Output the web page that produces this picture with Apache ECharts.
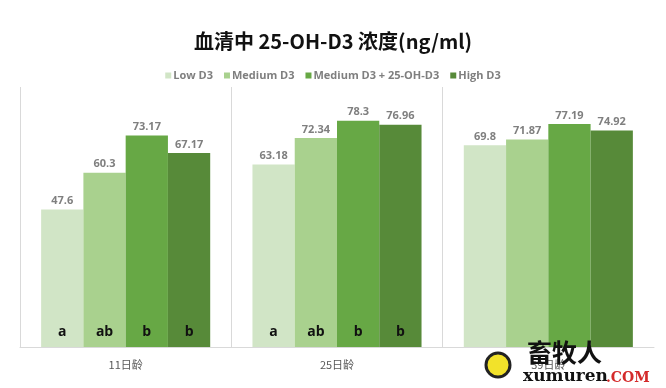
<!DOCTYPE html>
<html>
<head>
<meta charset="utf-8">
<script src="https://cdn.jsdelivr.net/npm/echarts@6/dist/echarts.min.js"></script>
<style>html,body{margin:0;padding:0;background:#fff;}#c{width:666px;height:388px;}</style>
</head>
<body>
<div id="c"></div>
<script>
var categories = ['11日龄', '25日龄', '39日龄'];
var seriesNames = ['Low D3', 'Medium D3', 'Medium D3 + 25-OH-D3', 'High D3'];
var lowD3 = [47.6, 63.18, 69.8];
var mediumD3 = [60.3, 72.34, 71.87];
var medium25OH = [73.17, 78.3, 77.19];
var highD3 = [67.17, 76.96, 74.92];
var lettersLow = ['a', 'a', ''];
var lettersMedium = ['ab', 'ab', ''];
var lettersMedium25 = ['b', 'b', ''];
var lettersHigh = ['b', 'b', ''];

var values = [lowD3, mediumD3, medium25OH, highD3];
var letters = [lettersLow, lettersMedium, lettersMedium25, lettersHigh];
var colors = ['#d1e5c6', '#a9d18e', '#67a845', '#578a39'];

var chart = echarts.init(document.getElementById('c'), null, {renderer: 'canvas'});
var series = [];
values.forEach(function (v, i) {
  series.push({
    name: seriesNames[i], type: 'bar', xAxisIndex: 0, data: v,
    barGap: '0%', barCategoryGap: '20%',
    itemStyle: {color: colors[i]},
    label: {show: true, position: 'top', distance: 3, color: '#7f7f7f', fontWeight: 'bold',
      fontSize: 11, fontFamily: 'Open Sans'}
  });
});
values.forEach(function (v, i) {
  series.push({
    type: 'bar', xAxisIndex: 1, data: v, silent: true,
    barGap: '0%', barCategoryGap: '20%',
    itemStyle: {color: 'rgba(0,0,0,0)'},
    label: {show: true, position: 'insideBottom', distance: 8, color: '#111', fontWeight: 'bold',
      fontSize: 14, fontFamily: 'Open Sans',
      formatter: function (p) { return letters[i][p.dataIndex]; }}
  });
});

chart.setOption({
  animation: false,
  backgroundColor: '#fff',
  color: colors,
  title: {text: '血清中 25-OH-D3 浓度(ng/ml)', left: 'center', top: 26,
    textStyle: {fontSize: 20, fontWeight: 'bold', color: '#111', fontFamily: '"Noto Sans CJK SC", "Open Sans"'}},
  legend: {data: seriesNames, top: 65, left: 'center', itemWidth: 6, itemHeight: 6, itemGap: 11,
    icon: 'rect',
    textStyle: {fontSize: 11, color: '#7f7f7f', fontWeight: 'bold', fontFamily: 'Open Sans', padding: [0, 0, 0, -3]}},
  grid: {left: 20, right: 12, top: 87, bottom: 41},
  xAxis: [{
    type: 'category', data: categories,
    axisLine: {lineStyle: {color: '#d9d9d9', width: 1}},
    axisTick: {show: false},
    axisLabel: {color: '#595959', fontSize: 11, margin: 12, fontFamily: '"Noto Sans CJK SC"'},
    splitLine: {show: true, lineStyle: {color: ['#d9d9d9', '#d9d9d9', '#d9d9d9', 'rgba(0,0,0,0)'], width: 1}}
  }, {
    type: 'category', data: categories, show: false
  }],
  yAxis: {type: 'value', min: 0, max: 90, show: false, splitLine: {show: false}},
  series: series,
  graphic: [
    {type: 'circle', z: 100, shape: {cx: 498, cy: 365, r: 12}, style: {fill: '#f2e22a', stroke: '#222', lineWidth: 3}},
    {type: 'text', z: 100, left: 527, top: 340, style: {text: '畜牧人', fontSize: 25, fontWeight: 'bold',
      fill: '#111', fontFamily: '"Noto Sans CJK SC"'}},
    {type: 'text', z: 100, left: 523, top: 368, style: {text: 'xumuren', fontSize: 17, fontWeight: 'bold',
      fill: '#111', fontFamily: '"DejaVu Serif"'}},
    {type: 'text', z: 100, left: 606, top: 371, style: {text: '.COM', fontSize: 14, fontWeight: 'bold',
      fill: '#d42a2a', fontFamily: '"DejaVu Serif"'}}
  ]
});
</script>
</body>
</html>
